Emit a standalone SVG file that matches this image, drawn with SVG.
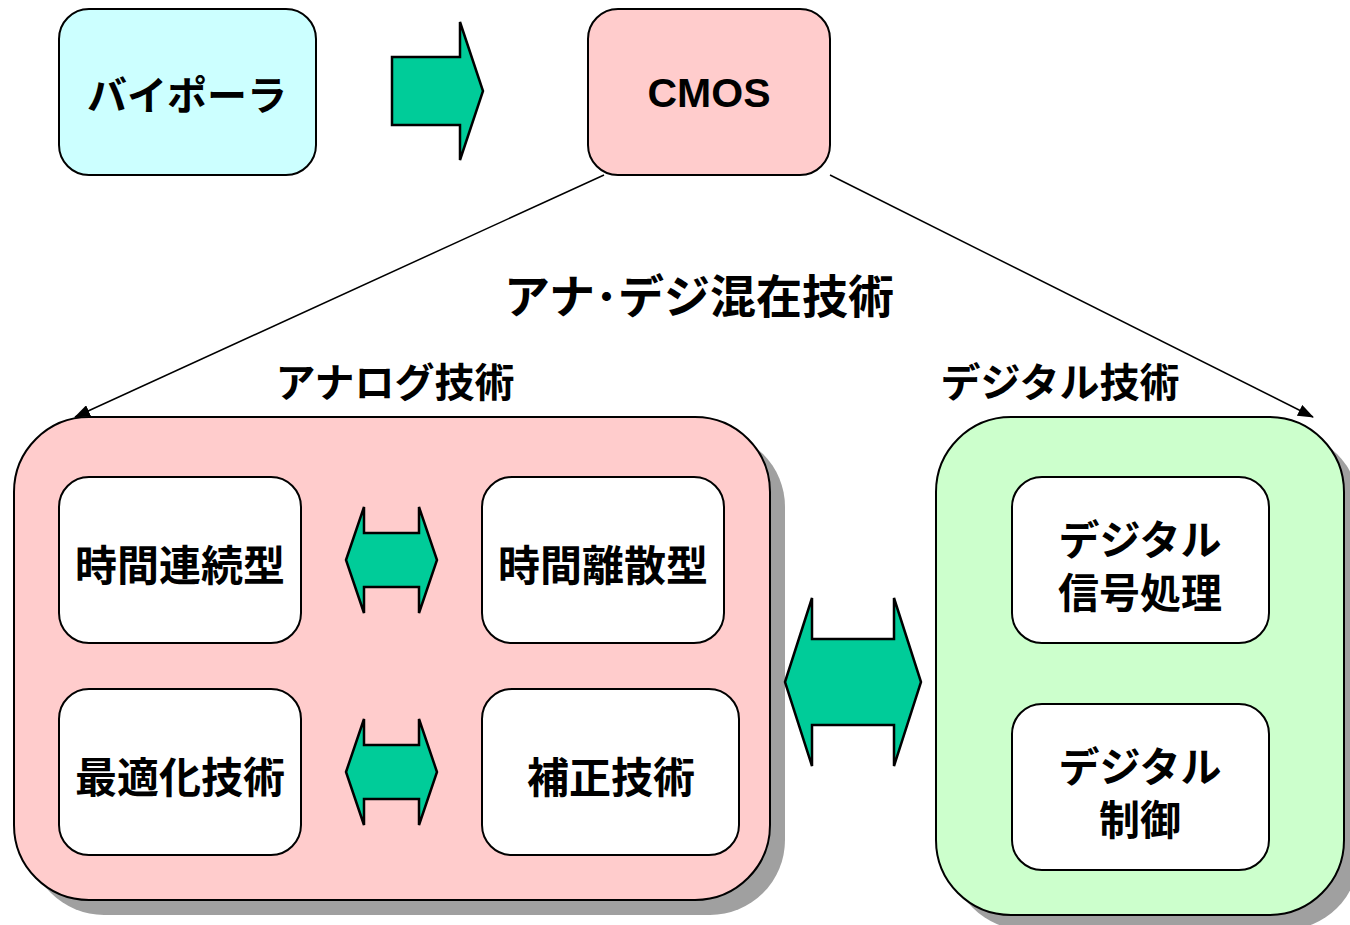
<svg xmlns="http://www.w3.org/2000/svg" width="1350" height="925" viewBox="0 0 1350 925">
<defs>
<style>
.box{stroke:#000;stroke-width:2}
.wb{fill:#fff;stroke:#000;stroke-width:2}
.arr{fill:#00cc99;stroke:#000;stroke-width:2.5;stroke-linejoin:miter}
.sh{fill:#a0a0a0}
.t{font-family:"Noto Sans CJK JP","Liberation Sans",sans-serif;font-weight:bold;fill:#000;text-anchor:middle;dominant-baseline:central}
.ln{stroke:#000;stroke-width:1.5;fill:none}
</style>
<marker id="ah" markerWidth="16" markerHeight="12" refX="15" refY="6" orient="auto" markerUnits="userSpaceOnUse">
<path d="M0,0 L16,6 L0,12 z" fill="#000"/>
</marker>
</defs>
<rect width="1350" height="925" fill="#fff"/>

<g id="analog">
<rect class="sh" x="29" y="432" width="756" height="483" rx="75"/>
<rect class="box" x="14" y="417" width="756" height="483" rx="75" fill="#ffcccc"/>
<text class="t" x="395" y="380" font-size="40">アナログ技術</text>
</g>
<g id="digital">
<rect class="sh" x="951" y="432" width="408" height="498" rx="75"/>
<rect class="box" x="936" y="417" width="408" height="498" rx="75" fill="#ccffcc"/>
<text class="t" x="1060" y="380" font-size="40">デジタル技術</text>
</g>

<g id="connectors">
<line class="ln" x1="604" y1="175" x2="75" y2="417" marker-end="url(#ah)"/>
<line class="ln" x1="830" y1="175" x2="1313" y2="417" marker-end="url(#ah)"/>
<polygon class="arr" points="392,57 460,57 460,22 483,91 460,160 460,125 392,125"/>
<polygon class="arr" points="346,560 364,507 364,533 419,533 419,507 437,560 419,613 419,587 364,587 364,613"/>
<polygon class="arr" points="346,772 364,719 364,745 419,745 419,719 437,772 419,825 419,799 364,799 364,825"/>
<polygon class="arr" points="785,682 812,598 812,639 894,639 894,598 921,682 894,766 894,725 812,725 812,766"/>
</g>

<g id="bipolar">
<rect class="box" x="59" y="9" width="257" height="166" rx="30" fill="#ccffff"/>
<text class="t" x="187" y="93" font-size="40">バイポーラ</text>
</g>
<g id="cmos">
<rect class="box" x="588" y="9" width="242" height="166" rx="30" fill="#ffcccc"/>
<text class="t" x="709" y="93" font-size="41" style="font-family:'Liberation Sans',sans-serif">CMOS</text>
</g>

<g id="mixed-label">
<text class="t" x="699" y="293" font-size="46">アナ･デジ混在技術</text>
</g>

<g id="continuous">
<rect class="wb" x="59" y="477" width="242" height="166" rx="30"/>
<text class="t" x="180" y="562" font-size="42">時間連続型</text>
</g>
<g id="discrete">
<rect class="wb" x="482" y="477" width="242" height="166" rx="30"/>
<text class="t" x="603" y="562" font-size="42">時間離散型</text>
</g>
<g id="optimize">
<rect class="wb" x="59" y="689" width="242" height="166" rx="30"/>
<text class="t" x="180" y="774" font-size="42">最適化技術</text>
</g>
<g id="correction">
<rect class="wb" x="482" y="689" width="257" height="166" rx="30"/>
<text class="t" x="611" y="774" font-size="42">補正技術</text>
</g>

<g id="dsp">
<rect class="wb" x="1012" y="477" width="257" height="166" rx="30"/>
<text class="t" font-size="41"><tspan x="1140" y="537">デジタル</tspan><tspan x="1140" y="590">信号処理</tspan></text>
</g>
<g id="dctrl">
<rect class="wb" x="1012" y="704" width="257" height="166" rx="30"/>
<text class="t" font-size="41"><tspan x="1140" y="764">デジタル</tspan><tspan x="1140" y="817">制御</tspan></text>
</g>
</svg>
